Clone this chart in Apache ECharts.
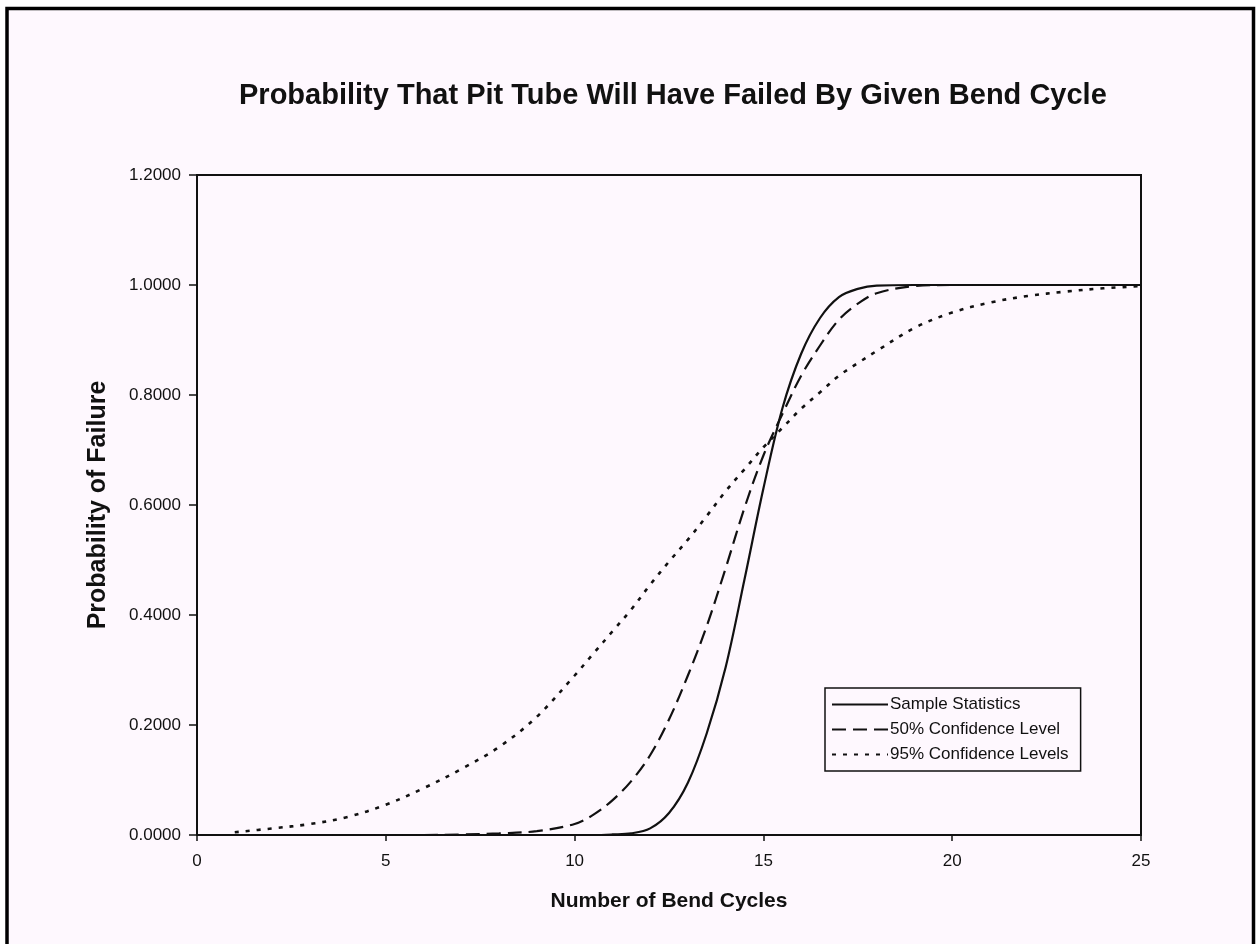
<!DOCTYPE html>
<html>
<head>
<meta charset="utf-8">
<script src="https://cdn.jsdelivr.net/npm/echarts@6/dist/echarts.min.js"></script>
<style>
  html, body { margin: 0; padding: 0; background: #ffffff; }
  #chart { width: 1256px; height: 944px; }
</style>
</head>
<body>
<div id="chart"></div>
<script>
// bend cycles (x values shared by all three curves)
var cycles = [1, 2, 3, 4, 5, 6, 7, 8, 9, 10, 10.5, 11, 11.5, 12, 12.5, 13, 13.5, 14, 14.5,
              15, 15.5, 16, 16.5, 17, 17.5, 18, 19, 20, 21, 22, 23, 24, 25];

// Sample Statistics (solid)
var sampleStats = [0, 0, 0, 0, 0, 0, 0, 0, 0, 0, 0, 0.001, 0.003, 0.012, 0.04, 0.095, 0.185, 0.305, 0.465,
                   0.63, 0.775, 0.875, 0.94, 0.978, 0.993, 0.999, 1.0, 1.0, 1.0, 1.0, 1.0, 1.0, 1.0];

// 50% Confidence Level (dashed)
var conf50 = [0, 0, 0, 0, 0, 0, 0.001, 0.003, 0.007, 0.02, 0.037, 0.063, 0.098, 0.145, 0.21, 0.29, 0.38, 0.485, 0.595,
              0.69, 0.765, 0.835, 0.89, 0.937, 0.966, 0.985, 0.998, 1.0, 1.0, 1.0, 1.0, 1.0, 1.0];

// 95% Confidence Levels (dotted)
var conf95 = [0.005, 0.012, 0.02, 0.033, 0.055, 0.085, 0.12, 0.16, 0.215, 0.29, 0.33, 0.37, 0.41, 0.455, 0.497, 0.537, 0.58, 0.625, 0.665,
              0.705, 0.74, 0.775, 0.805, 0.835, 0.858, 0.88, 0.922, 0.95, 0.968, 0.98, 0.988, 0.994, 0.998];

var xTicks = [0, 5, 10, 15, 20, 25];
var yTicks = [0, 0.2, 0.4, 0.6, 0.8, 1.0, 1.2];

function pairs(ys) {
  return cycles.map(function (c, i) { return [c, ys[i]]; });
}

var ink = '#111111';
var font = 'Liberation Sans, Arial, sans-serif';
var chart = echarts.init(document.getElementById('chart'));

chart.setOption({
  backgroundColor: '#ffffff',
  animation: false,
  textStyle: { fontFamily: font, color: ink },
  graphic: [
    { type: 'rect', z: -10, shape: { x: 8, y: 9, width: 1244, height: 940 },
      style: { fill: '#fef8fe' } },
    { type: 'polyline', z: 100, shape: { points: [[7, 944], [7, 8.5], [1253.5, 8.5], [1253.5, 944]] },
      style: { fill: null, stroke: '#000', lineWidth: 3.5 } }
  ],
  title: {
    text: 'Probability That Pit Tube Will Have Failed By Given Bend Cycle',
    left: 234,
    top: 76,
    textStyle: { fontSize: 29, fontWeight: 'bold', color: ink, fontFamily: font }
  },
  grid: {
    left: 197, right: 115, top: 175, bottom: 109,
    show: true, borderColor: ink, borderWidth: 2, backgroundColor: 'transparent'
  },
  legend: {
    orient: 'vertical',
    left: 825, top: 688,
    itemWidth: 56, itemHeight: 10, itemGap: 8,
    padding: [8, 12, 8, 6],
    borderColor: ink, borderWidth: 1.5,
    backgroundColor: '#fef8fe',
    itemStyle: { opacity: 0 },
    textStyle: { fontSize: 17, color: ink, padding: [0, 0, 0, -3] },
    data: ['Sample Statistics', '50% Confidence Level', '95% Confidence Levels']
  },
  xAxis: {
    type: 'value',
    min: xTicks[0], max: xTicks[xTicks.length - 1], interval: 5,
    name: 'Number of Bend Cycles',
    nameLocation: 'middle', nameGap: 56,
    nameTextStyle: { fontSize: 21, fontWeight: 'bold', color: ink },
    axisLine: { lineStyle: { color: ink, width: 2 } },
    axisTick: { show: true, inside: false, length: 6, lineStyle: { color: ink, width: 1.5 } },
    axisLabel: { fontSize: 17, color: ink, margin: 18 },
    splitLine: { show: false }
  },
  yAxis: {
    type: 'value',
    min: yTicks[0], max: yTicks[yTicks.length - 1], interval: 0.2,
    name: 'Probability of Failure',
    nameLocation: 'middle', nameGap: 86,
    nameTextStyle: { fontSize: 25, fontWeight: 'bold', color: ink },
    axisLine: { show: true, lineStyle: { color: ink, width: 2 } },
    axisTick: { show: true, inside: false, length: 8, lineStyle: { color: ink, width: 1.5 } },
    axisLabel: { fontSize: 17, color: ink, margin: 16, formatter: function (v) { return v.toFixed(4); } },
    splitLine: { show: false }
  },
  series: [
    {
      name: 'Sample Statistics', type: 'line', smooth: 0.35, symbol: 'none',
      data: pairs(sampleStats),
      lineStyle: { color: ink, width: 2.2, type: 'solid' },
      itemStyle: { color: ink }
    },
    {
      name: '50% Confidence Level', type: 'line', smooth: 0.35, symbol: 'none',
      data: pairs(conf50),
      lineStyle: { color: ink, width: 2.2, type: [14, 7] },
      itemStyle: { color: ink }
    },
    {
      name: '95% Confidence Levels', type: 'line', smooth: 0.35, symbol: 'none',
      data: pairs(conf95),
      lineStyle: { color: ink, width: 2.6, type: [4, 7] },
      itemStyle: { color: ink }
    }
  ]
});
</script>
</body>
</html>
